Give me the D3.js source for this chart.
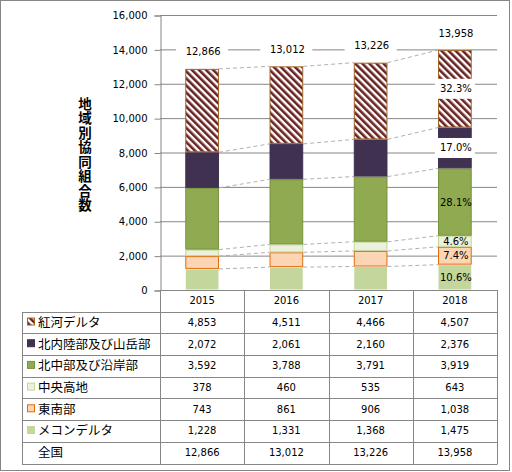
<!DOCTYPE html>
<html>
<head>
    <meta charset="utf-8">
    <style>
        body { margin: 0; background: #fff; }
        svg { display: block; }
        .num { font-family: 'DejaVu Sans', sans-serif; font-size: 10px; fill: #000; }
        .jp { font-family: 'Noto Sans CJK JP', sans-serif; font-size: 12.5px; fill: #000; }
    </style>
</head>
<body>
<svg width="512" height="472"></svg>

<script src="https://d3js.org/d3.v7.min.js"></script>
<script>
    // data
    let years = ["2015", "2016", "2017", "2018"];
    // stacking order, bottom to top
    let regions = ["メコンデルタ", "東南部", "中央高地", "北中部及び沿岸部", "北内陸部及び山岳部", "紅河デルタ"];
    let mekong = [1228, 1331, 1368, 1475];
    let southeast = [743, 861, 906, 1038];
    let highland = [378, 460, 535, 643];
    let northCentral = [3592, 3788, 3791, 3919];
    let northMountain = [2072, 2061, 2160, 2376];
    let redRiver = [4853, 4511, 4466, 4507];
    let totals = [12866, 13012, 13226, 13958];
    let share2018 = ["10.6%", "7.4%", "4.6%", "28.1%", "17.0%", "32.3%"];
    let yTicks = [0, 2000, 4000, 6000, 8000, 10000, 12000, 14000, 16000];
    let yTitle = "地域別協同組合数";
    let totalLabel = "全国";

    let seriesValues = [mekong, southeast, highland, northCentral, northMountain, redRiver];
    let fills = ["#C3D69B", "#FCD5B5", "#EBF1DE", "#8FAA50", "#403151", "url(#hatch)"];
    let strokes = ["none", "#E46C0A", "#C3D69B", "#77933C", "#403151", "#A0632A"];

    let svg = d3.select("svg");
    let fmt = d3.format(",");

    // hatch for 紅河デルタ
    let pat = svg.append("defs").append("pattern")
        .attr("id", "hatch")
        .attr("patternUnits", "userSpaceOnUse")
        .attr("width", 5).attr("height", 5)
        .attr("patternTransform", "rotate(-45)");
    pat.append("rect").attr("width", 5).attr("height", 5).attr("fill", "#fff");
    pat.append("rect").attr("width", 2.6).attr("height", 5).attr("fill", "#6A2321");

    // outer frame
    svg.append("rect")
        .attr("x", 0.5).attr("y", 0.5)
        .attr("width", 509).attr("height", 470)
        .attr("fill", "none").attr("stroke", "#868686");

    let plotLeft = 160, plotRight = 497, plotTop = 15, plotBottom = 290;

    let y = d3.scaleLinear().domain([0, 16000]).range([plotBottom, plotTop]);
    let x = d3.scaleBand().domain(years).range([plotLeft, plotRight]).paddingInner(0.6).paddingOuter(0.3);
    let col = d3.scaleBand().domain(years).range([plotLeft, plotRight]);

    // gridlines
    svg.selectAll(".grid")
        .data(yTicks.filter(d => d > 0))
        .join("line")
        .attr("x1", plotLeft).attr("x2", plotRight)
        .attr("y1", d => y(d) + 0.5).attr("y2", d => y(d) + 0.5)
        .style("stroke", "#868686")

    // y axis
    let yAxis = d3.axisLeft(y).tickValues(yTicks).tickFormat(fmt).tickSize(6).tickPadding(7);
    let ya = svg.append("g")
        .attr("transform", "translate(" + (plotLeft + 0.5) + ",0.5)")
        .call(yAxis);
    ya.select(".domain").attr("stroke", "#868686");
    ya.selectAll(".tick line").attr("stroke", "#868686");
    ya.selectAll("text").attr("class", "num").style("font-size", "10px").attr("fill", "#000");

    // y title, vertical writing
    svg.append("text")
        .attr("x", 85).attr("y", 97)
        .style("font-family", "'Noto Sans CJK JP', sans-serif")
        .style("font-size", "13.5px")
        .style("font-weight", "bold")
        .style("writing-mode", "vertical-rl")
        .style("text-orientation", "upright")
        .style("letter-spacing", "1px")
        .text(yTitle);

    // stacked values
    let stackData = years.map((yr, j) => {
        let o = { year: yr };
        regions.forEach((r, i) => o[r] = seriesValues[i][j]);
        return o;
    });
    let stacked = d3.stack().keys(regions)(stackData);

    // series lines between bars
    stacked.forEach(s => {
        for (let j = 0; j < years.length - 1; j++) {
            svg.append("line")
                .attr("x1", x(years[j]) + x.bandwidth())
                .attr("y1", y(s[j][1]))
                .attr("x2", x(years[j + 1]))
                .attr("y2", y(s[j + 1][1]))
                .style("stroke", "#B0B0B0")
                .style("stroke-dasharray", "4,3")
        }
    });

    // bars
    svg.selectAll(".series")
        .data(stacked)
        .join("g")
        .each(function (s, i) {
            d3.select(this).selectAll("rect")
                .data(s)
                .join("rect")
                .attr("x", (d, j) => x(years[j]) + 0.5)
                .attr("y", d => y(d[1]) + 0.5)
                .attr("width", x.bandwidth() - 1)
                .attr("height", d => y(d[0]) - y(d[1]) - 1)
                .attr("fill", fills[i])
                .attr("stroke", strokes[i])
                .attr("stroke-width", 1)
        });

    // total labels
    years.forEach((yr, j) => {
        let cx = x(yr) + x.bandwidth() / 2;
        let cy = y(totals[j]) - 17;
        svg.append("rect")
            .attr("x", cx - 26).attr("y", cy - 8)
            .attr("width", 52).attr("height", 16)
            .attr("fill", "#fff");
        svg.append("text")
            .attr("class", "num")
            .attr("x", cx + 1).attr("y", cy)
            .attr("dy", "0.35em")
            .attr("text-anchor", "middle")
            .text(fmt(totals[j]));
    });

    // 2018 share labels
    let last = years.length - 1;
    stacked.forEach((s, i) => {
        let cx = x(years[last]) + x.bandwidth() / 2;
        let cy = (y(s[last][0]) + y(s[last][1])) / 2;
        if (i >= 4) {
            svg.append("rect")
                .attr("x", cx - 20).attr("y", cy - 10)
                .attr("width", 40).attr("height", 20)
                .attr("fill", "#fff");
        }
        svg.append("text")
            .attr("class", "num")
            .attr("x", cx + 1).attr("y", cy)
            .attr("dy", "0.35em")
            .attr("text-anchor", "middle")
            .text(share2018[i]);
    });

    // data table
    let tableLeft = 22, tableBottom = 463.5;
    let rowH = (tableBottom - plotBottom) / 8;
    let rowY = i => plotBottom + rowH * i;
    let line = "#868686";

    // x axis line
    svg.append("line")
        .attr("x1", plotLeft).attr("x2", plotRight)
        .attr("y1", plotBottom + 0.5).attr("y2", plotBottom + 0.5)
        .style("stroke", line);

    // header years
    svg.selectAll(".yr")
        .data(years)
        .join("text")
        .attr("class", "num")
        .attr("x", d => col(d) + col.bandwidth() / 2)
        .attr("y", rowY(0.5))
        .attr("dy", "0.35em")
        .attr("text-anchor", "middle")
        .text(d => d);

    // row order top to bottom
    let tableRows = regions.map((r, i) => ({ name: r, idx: i, values: seriesValues[i] })).reverse();
    tableRows.push({ name: totalLabel, idx: -1, values: totals });

    tableRows.forEach((row, k) => {
        let cy = rowY(k + 1.5);
        if (row.idx >= 0) {
            svg.append("rect")
                .attr("x", 27.5).attr("y", cy - 4.5)
                .attr("width", 7).attr("height", 7)
                .attr("fill", fills[row.idx])
                .attr("stroke", strokes[row.idx] == "none" ? fills[row.idx] : strokes[row.idx]);
        }
        svg.append("text")
            .attr("class", "jp")
            .attr("x", 38).attr("y", cy)
            .attr("dy", "0.36em")
            .text(row.name);
        svg.selectAll(".v" + k)
            .data(row.values)
            .join("text")
            .attr("class", "num")
            .attr("x", (d, j) => col(years[j]) + col.bandwidth() / 2)
            .attr("y", cy)
            .attr("dy", "0.35em")
            .attr("text-anchor", "middle")
            .text(d => fmt(d));
    });

    // table grid
    for (let k = 1; k <= 8; k++) {
        svg.append("line")
            .attr("x1", tableLeft).attr("x2", plotRight)
            .attr("y1", Math.round(rowY(k)) + 0.5).attr("y2", Math.round(rowY(k)) + 0.5)
            .style("stroke", line);
    }
    svg.append("line")
        .attr("x1", tableLeft + 0.5).attr("x2", tableLeft + 0.5)
        .attr("y1", Math.round(rowY(1)) + 0.5).attr("y2", Math.round(rowY(8)) + 0.5)
        .style("stroke", line);
    years.concat(["end"]).forEach((yr, j) => {
        let xx = yr == "end" ? plotRight : col(yr);
        svg.append("line")
            .attr("x1", Math.round(xx) + 0.5).attr("x2", Math.round(xx) + 0.5)
            .attr("y1", plotBottom).attr("y2", Math.round(rowY(8)) + 0.5)
            .style("stroke", line);
    });
</script>
</body>
</html>
